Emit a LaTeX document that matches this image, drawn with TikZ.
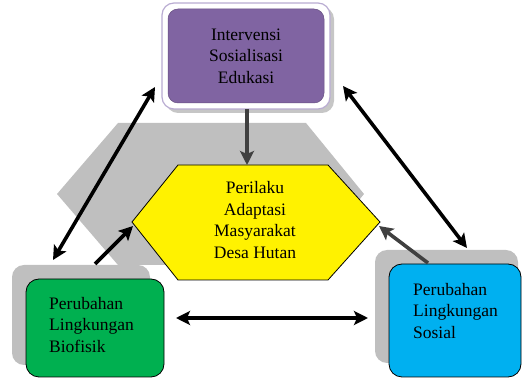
\documentclass[tikz,border=0pt]{standalone}
\usepackage{fontspec}
\setmainfont{Liberation Serif}
\usetikzlibrary{arrows.meta}
\definecolor{purp}{RGB}{128,100,162}
\definecolor{grn}{RGB}{0,176,80}
\definecolor{blu}{RGB}{0,176,240}
\definecolor{shad}{RGB}{191,191,191}
\definecolor{frm}{RGB}{185,172,210}
\tikzset{
  txt/.style={font=\rmfamily\fontsize{17.5}{21.5}\selectfont, inner sep=0pt},
  arr/.style={line width=3.6pt, -{Stealth[length=14pt,width=14pt,inset=3pt]}},
  darr/.style={line width=3.6pt, {Stealth[length=14pt,width=14pt,inset=3pt]}-{Stealth[length=14pt,width=14pt,inset=3pt]}},
}
\begin{document}
\begin{tikzpicture}[x=1pt,y=-1pt]
\useasboundingbox (0,0) rectangle (523,379);
% grey hexagon shadow
\fill[shad] (118,123) -- (306,123) -- (364,194) -- (306,265) -- (118,265) -- (57,194) -- cycle;
% yellow hexagon
\coordinate (htop) at (247,165);
\coordinate (hl) at (132,222);
\coordinate (hr) at (380,222);
\draw[fill=yellow, line width=0.8pt] (178,165) -- (328,165) -- (hr) -- (328,280) -- (178,280) -- (hl) -- cycle;
\node[txt, align=center] (hex) at (255,220) {Perilaku\\Adaptasi\\Masyarakat\\Desa Hutan};
% purple box
\fill[gray!45, rounded corners=12pt] (166,7) rectangle (334,113);
\draw[frm, fill=white, line width=1.2pt, rounded corners=12pt] (162,3) rectangle (330,109);
\draw[purp!80!black, fill=purp, line width=0.5pt, rounded corners=10pt] (168,9) rectangle (324,103);
\node[txt, align=center] (int) at (246,56) {Intervensi\\Sosialisasi\\Edukasi};
\coordinate (ib) at (247,109);
% green box
\fill[shad, rounded corners=12pt] (12,265) rectangle (150,365);
\draw[fill=grn, line width=0.8pt, rounded corners=13pt] (26,279) rectangle (164,377);
\node[txt, align=left, anchor=west] (bio) at (49,325) {Perubahan\\Lingkungan\\Biofisik};
% blue box
\fill[shad, rounded corners=12pt] (375,250) rectangle (518,363);
\draw[fill=blu, line width=0.8pt, rounded corners=13pt] (389,264) rectangle (521,377);
\node[txt, align=left, anchor=west] (sos) at (413,311) {Perubahan\\Lingkungan\\Sosial};
% connector end points
\coordinate (a1) at (155,87);
\coordinate (a2) at (53,260);
\coordinate (b1) at (343,86);
\coordinate (b2) at (467,248);
\coordinate (g1) at (95,264);
\coordinate (s1) at (428,263);
\coordinate (c1) at (176,318);
\coordinate (c2) at (368,318);
% arrows
\draw[arr, black!75] (ib) -- (htop);
\draw[darr] (a1) -- (a2);
\draw[darr] (b1) -- (b2);
\draw[arr] (g1) -- (133,226);
\draw[arr, black!75] (s1) -- (379,226);
\draw[darr] (c1) -- (c2);
\end{tikzpicture}
\end{document}
